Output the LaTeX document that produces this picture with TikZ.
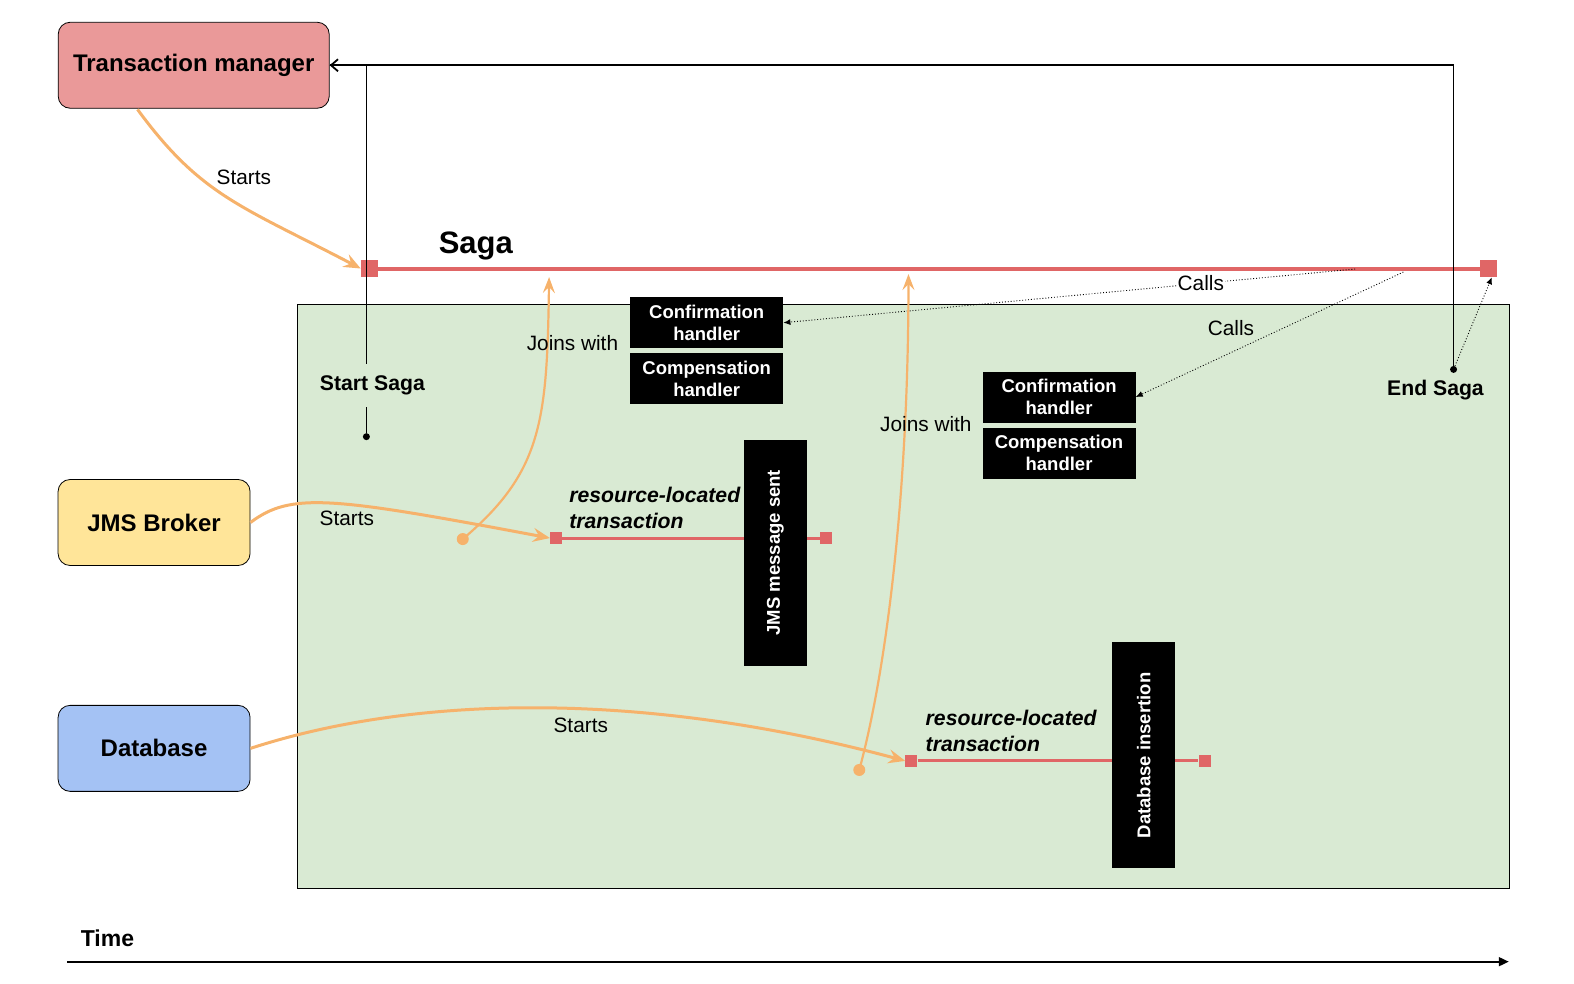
\documentclass[tikz,border=0pt]{standalone}
\usepackage{fontspec}
\setmainfont{Liberation Sans}
\usetikzlibrary{arrows.meta}
\definecolor{tmred}{HTML}{EA9999}
\definecolor{jmsyellow}{HTML}{FFE599}
\definecolor{dbblue}{HTML}{A4C2F4}
\definecolor{stagegreen}{HTML}{D9EAD3}
\definecolor{sagared}{HTML}{E06666}
\definecolor{startorange}{HTML}{F6B26B}

\begin{document}
\begin{tikzpicture}[x=1.00383pt, y=-1.00383pt,
  actor/.style={draw, rounded corners=12pt, line width=0.8pt, minimum height=86pt, inner sep=0pt,
                font=\fontsize{24}{28}\selectfont\bfseries},
  handler/.style={fill=black, text=white, minimum width=153pt, minimum height=51pt, inner sep=0pt,
                  align=center, font=\fontsize{18.5}{22}\selectfont\bfseries},
  event/.style={handler, rotate=90, minimum width=226pt, minimum height=63pt},
  lbl/.style={font=\fontsize{20.8}{24}\selectfont},
  boldlbl/.style={font=\fontsize{21.2}{25}\selectfont\bfseries},
  txlbl/.style={anchor=west, align=left, inner sep=0pt, font=\fontsize{21.2}{26}\selectfont\bfseries\itshape},
  bigsq/.style={fill=sagared, minimum size=17pt, inner sep=0pt},
  smallsq/.style={fill=sagared, minimum size=12pt, inner sep=0pt},
  blackdot/.style={circle, fill=black, minimum size=7pt, inner sep=0pt},
  orangedot/.style={circle, fill=startorange, minimum size=12pt, inner sep=0pt},
  starts/.style={draw=startorange, line width=3pt, -{Stealth[length=17pt,width=14pt,inset=6pt]}},
  joins/.style={draw=startorange, line width=2.2pt, -{Stealth[length=16pt,width=12pt,inset=6pt]}},
  calls/.style={dotted, line width=0.9pt, -{Latex[length=7pt,width=6pt]}},
  ctrl/.style={line width=1.8pt}]
  \useasboundingbox (0,0) rectangle (1568,980);

  % the stage where the saga runs
  \node[draw, fill=stagegreen, line width=0.8pt, minimum width=1212pt, minimum height=584pt, inner sep=0pt] (stage) at (899.5,594) {};

  \node[actor, fill=tmred, minimum width=271pt] (tm) at (193,65) {Transaction manager};
  \node[actor, fill=jmsyellow, minimum width=192pt] (jms) at (153.5,520.5) {JMS Broker};
  \node[actor, fill=dbblue, minimum width=192pt] (db) at (153.5,745.5) {Database};

  % saga line and the two resource-located transactions
  \node[bigsq] (sagaL) at (368,267.5) {};
  \node[bigsq] (sagaR) at (1483,267.5) {};
  \draw[sagared, line width=4pt] (sagaL) -- (sagaR);
  \node[font=\fontsize{31}{36}\selectfont\bfseries] (sagatitle) at (474,245) {Saga};
  \foreach \n/\a/\b/\y in {1/554/823/536, 2/908/1200/758}{
    \node[smallsq] (tx\n L) at (\a,\y) {};
    \node[smallsq] (tx\n R) at (\b,\y) {};
    \draw[sagared, line width=3pt] (tx\n L) -- (tx\n R); }
  \node[txlbl] (tx1lbl) at (567,506) {resource-located\\transaction};
  \node[txlbl] (tx2lbl) at (922,728.5) {resource-located\\transaction};
  \node[event] (jmssent) at (772.5,550.5) {JMS message sent};
  \node[event] (dbins) at (1139.5,752.5) {Database insertion};

  \foreach \n/\x/\y in {a/704/321.5, b/1055/395.5}{
    \node[handler] (conf-\n) at (\x,\y) {Confirmation\\handler};
    \node[handler] (comp-\n) at (\x,\y+56) {Compensation\\handler}; }

  % start and end of the saga go back to the manager
  \node[blackdot] (sdot) at (365,435) {};
  \node[blackdot] (edot) at (1448,368) {};
  \draw[ctrl] (sdot) |- (tm.east);
  \draw[ctrl, -{Straight Barb[length=7pt,width=12pt]}] (edot) |- (tm.east);
  \node[boldlbl, fill=stagegreen, inner xsep=2pt, inner ysep=12pt] (startlbl) at (371,384) {Start Saga};
  \node[boldlbl] (endlbl) at (1430,389) {End Saga};

  \coordinate (c1) at (1350,268);
  \coordinate (c2) at (1398,271);
  \draw[calls] (c1) -- node[lbl, pos=0.27, fill=white, inner sep=1pt] {Calls} (conf-a.east);
  \draw[calls] (c2) -- node[lbl, pos=0.644, yshift=24pt] {Calls} (conf-b.east);
  \draw[calls] (edot) -- (sagaR.290);

  % who starts what
  \draw[starts] (137,109) .. controls (200,195) and (240,205) .. node[lbl, pos=0.35, right=12pt] {Starts} (sagaL.west);
  \draw[starts] (jms.east) .. controls (290,490) and (330,495) .. node[lbl, pos=0.55, below=2pt] {Starts} (tx1L.west);
  \draw[starts] (db.east) .. controls (420,690) and (650,690) .. node[lbl, pos=0.55, below=4pt] {Starts} (tx2L.west);

  % the transactions join the saga
  \node[orangedot] (jdot1) at (461,537) {};
  \node[orangedot] (jdot2) at (856,767) {};
  \coordinate (j1) at (547,276);
  \coordinate (j2) at (905,273);
  \draw[joins] (jdot1.center) .. controls (540,470) and (545,420) .. node[lbl, pos=0.83, xshift=25pt] {Joins with} (j1);
  \draw[joins] (jdot2.center) .. controls (885,660) and (905,480) .. node[lbl, pos=0.75, xshift=21pt] {Joins with} (j2);

  % time axis
  \node[font=\fontsize{23}{27}\selectfont\bfseries] (timelbl) at (107,935) {Time};
  \coordinate (t0) at (67,958);
  \coordinate (t1) at (1503,958);
  \draw[line width=1.8pt, -{Triangle[length=10pt,width=9pt]}] (t0) -- (t1);
\end{tikzpicture}
\end{document}
